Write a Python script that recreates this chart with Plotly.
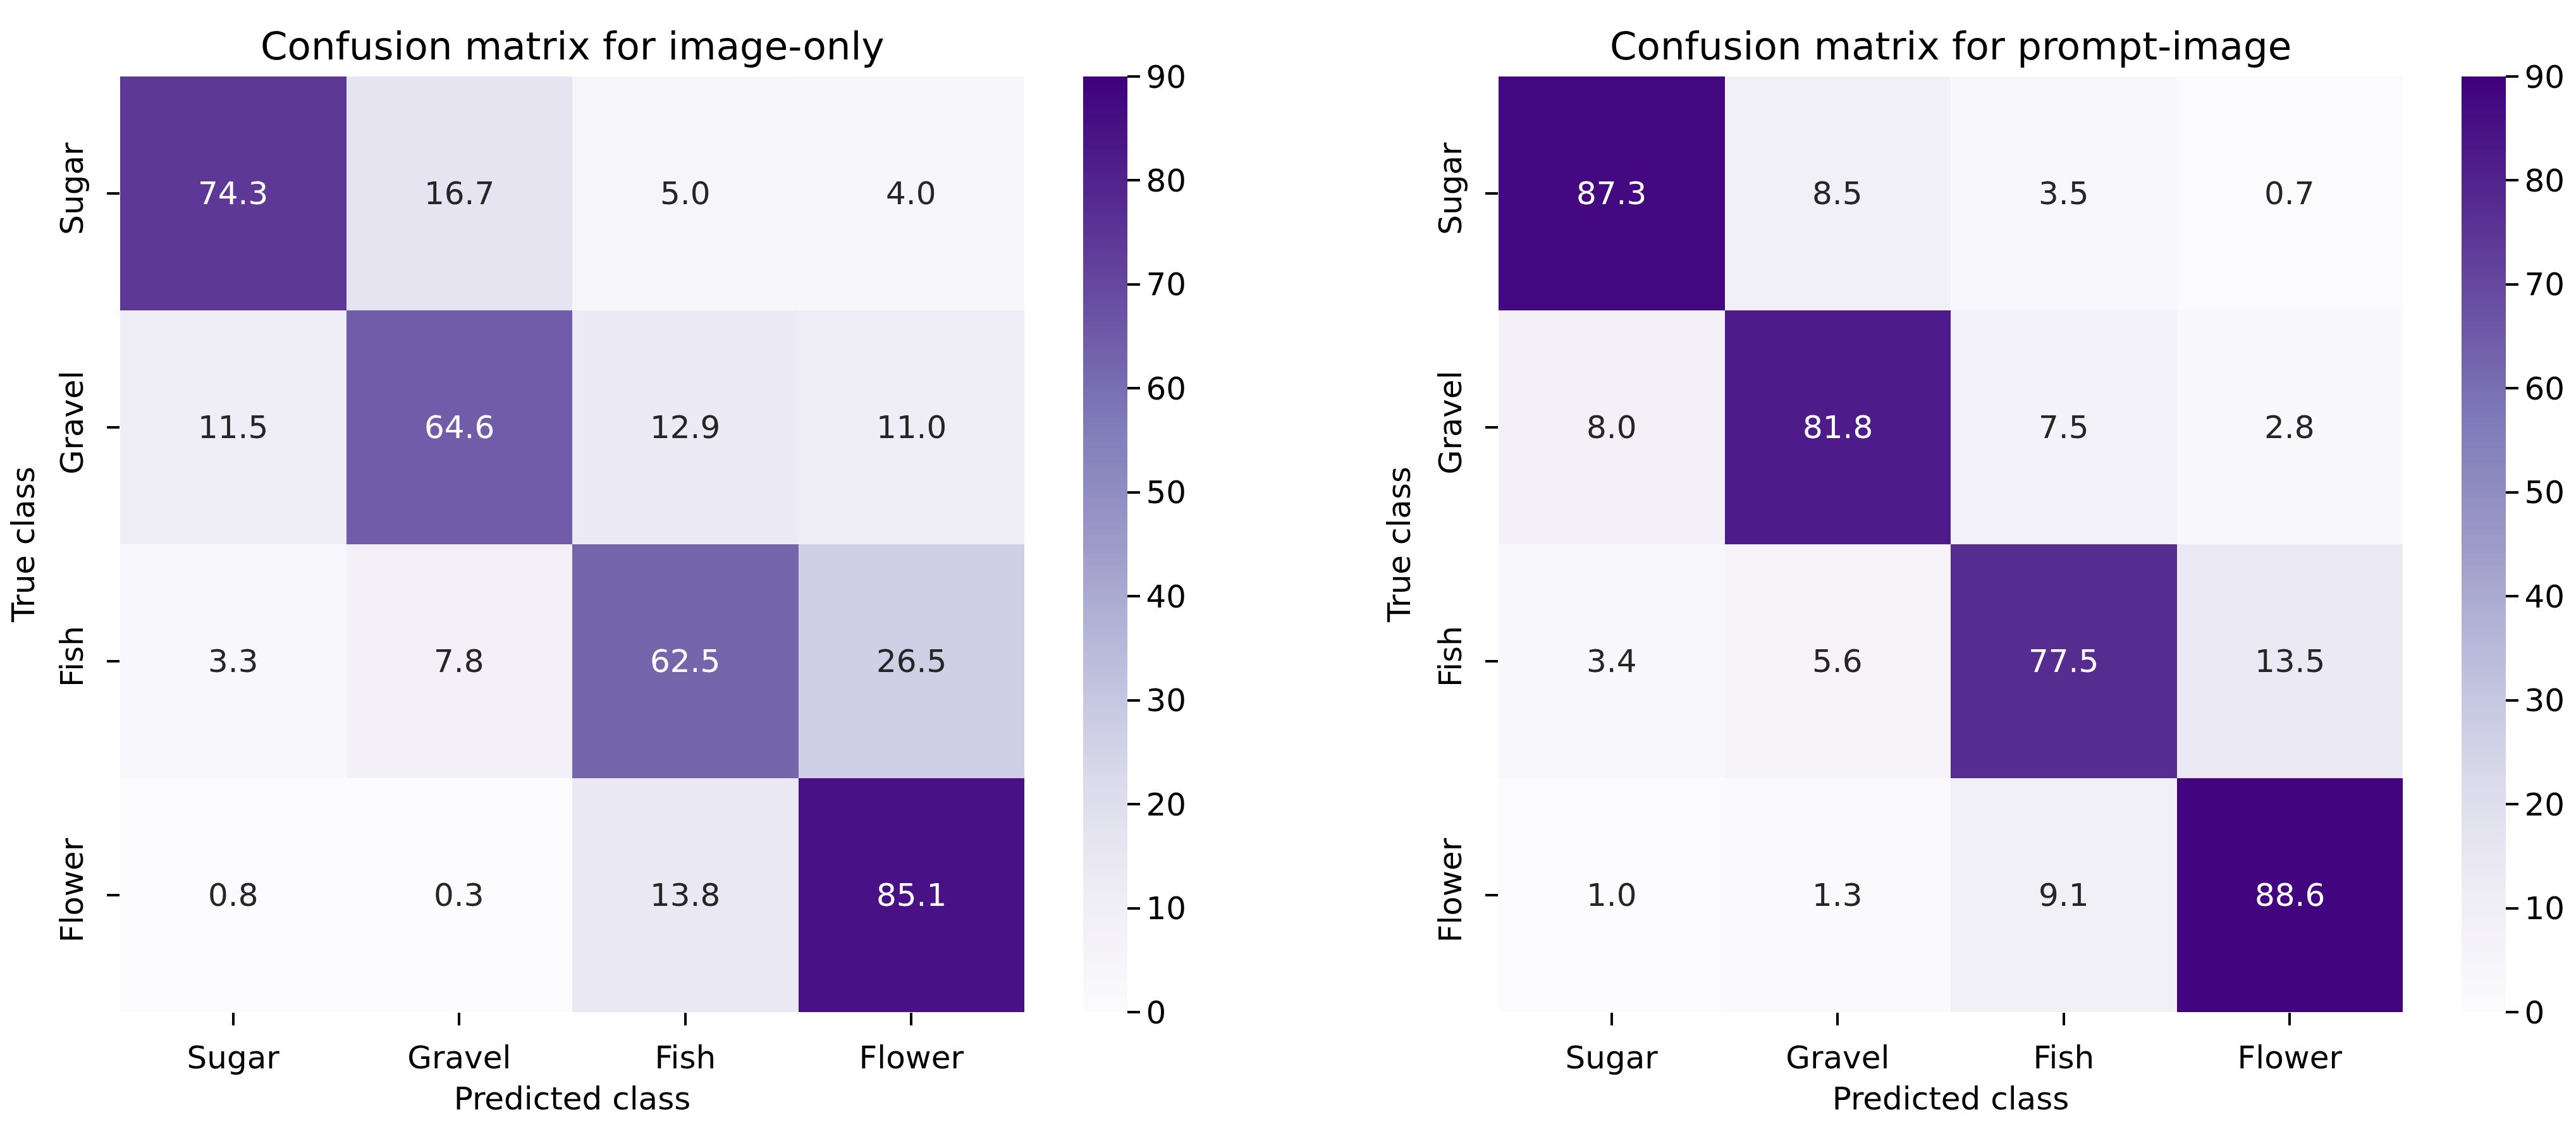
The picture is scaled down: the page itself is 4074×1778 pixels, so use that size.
import plotly.graph_objects as go
from plotly.colors import sample_colorscale, unlabel_rgb

# ---------------- data ----------------
classes = ["Sugar", "Gravel", "Fish", "Flower"]
image_only = [
    [74.3, 16.7, 5.0, 4.0],
    [11.5, 64.6, 12.9, 11.0],
    [3.3, 7.8, 62.5, 26.5],
    [0.8, 0.3, 13.8, 85.1],
]
prompt_image = [
    [87.3, 8.5, 3.5, 0.7],
    [8.0, 81.8, 7.5, 2.8],
    [3.4, 5.6, 77.5, 13.5],
    [1.0, 1.3, 9.1, 88.6],
]
titles = ["Confusion matrix for image-only", "Confusion matrix for prompt-image"]
x_label = "Predicted class"
y_label = "True class"
zmin, zmax = 0, 90
cbar_ticks = list(range(0, 91, 10))

# ---------------- style / layout ----------------
W, H = 4074, 1778
FONT = "DejaVu Sans"
TICK_SIZE = 50
TITLE_SIZE = 61
x_domains = [(182 / W, 1612 / W), (2362 / W, 3792 / W)]
y_domain = (1 - 1593 / H, 1 - 113 / H)
cbar_x = [1705 / W, 3885 / W]
DARK = "rgb(38,38,38)"


def rel_lum(rgb):
    c = [v / 255 for v in rgb]
    c = [x / 12.92 if x <= 0.03928 else ((x + 0.055) / 1.055) ** 2.4 for x in c]
    return 0.2126 * c[0] + 0.7152 * c[1] + 0.0722 * c[2]


fig = go.Figure()
annotations = []
for i, (mat, title) in enumerate(zip([image_only, prompt_image], titles)):
    xa = "x" if i == 0 else "x2"
    ya = "y" if i == 0 else "y2"
    fig.add_trace(go.Heatmap(
        z=mat, x=classes, y=classes,
        colorscale="Purples", zmin=zmin, zmax=zmax,
        xaxis=xa, yaxis=ya, xgap=0, ygap=0,
        hoverinfo="skip",
        colorbar=dict(
            x=cbar_x[i], xanchor="left", xpad=0, ypad=0,
            y=y_domain[0], yanchor="bottom",
            len=y_domain[1] - y_domain[0], lenmode="fraction",
            thickness=70, thicknessmode="pixels",
            outlinewidth=0,
            tickvals=cbar_ticks, ticks="outside", ticklen=20, tickwidth=4,
            tickcolor="black",
            tickfont=dict(family=FONT, size=TICK_SIZE, color="black"),
        ),
    ))
    for r, row in enumerate(mat):
        for c, v in enumerate(row):
            col = sample_colorscale("Purples", [(v - zmin) / (zmax - zmin)])[0]
            lum = rel_lum(unlabel_rgb(col))
            annotations.append(dict(
                x=classes[c], y=classes[r], xref=xa, yref=ya,
                text=f"{v:.1f}", showarrow=False,
                font=dict(family=FONT, size=TICK_SIZE,
                          color="white" if lum < 0.408 else DARK),
            ))
    annotations.append(dict(
        x=(x_domains[i][0] + x_domains[i][1]) / 2, y=1 - 64 / H,
        xref="paper", yref="paper", text=title, showarrow=False,
        xanchor="center", yanchor="middle",
        font=dict(family=FONT, size=TITLE_SIZE, color="black"),
    ))

axis_common = dict(
    showgrid=False, zeroline=False, showline=False,
    ticks="outside", ticklen=20, tickwidth=4, tickcolor="black",
    tickfont=dict(family=FONT, size=TICK_SIZE, color="black"),
)
for i in range(2):
    sfx = "" if i == 0 else "2"
    fig.layout["xaxis" + sfx] = dict(
        axis_common, domain=list(x_domains[i]), anchor="y" + sfx,
        type="category", ticklabelstandoff=8,
        title=dict(text=x_label, font=dict(family=FONT, size=TICK_SIZE, color="black"),
                   standoff=18),
    )
    fig.layout["yaxis" + sfx] = dict(
        axis_common, domain=list(y_domain), anchor="x" + sfx,
        type="category", autorange="reversed", tickangle=-90,
        ticklabelstandoff=18,
        title=dict(text=y_label, font=dict(family=FONT, size=TICK_SIZE, color="black"),
                   standoff=18),
    )

fig.update_layout(
    width=W, height=H,
    margin=dict(l=0, r=0, t=0, b=0),
    paper_bgcolor="white", plot_bgcolor="white",
    annotations=annotations,
    showlegend=False,
)

fig.write_html("out.html")
